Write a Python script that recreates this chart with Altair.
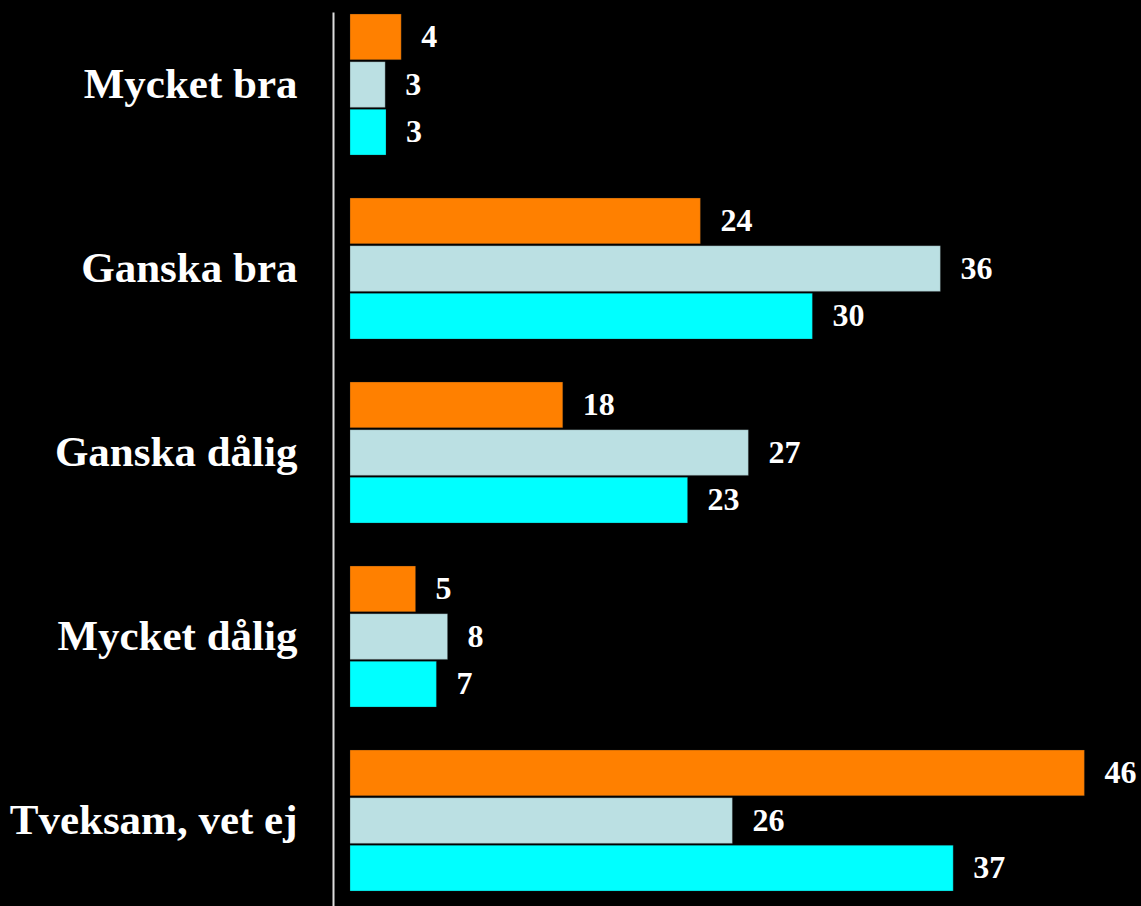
import altair as alt
import pandas as pd

categories = ["Mycket bra", "Ganska bra", "Ganska dålig", "Mycket dålig", "Tveksam, vet ej"]
series = ["Serie 1", "Serie 2", "Serie 3"]
colors = ["#FF8000", "#BBE0E3", "#00FFFF"]

# bar lengths as drawn
bar_s1 = [3.2, 21.9, 13.3, 4.1, 45.9]
bar_s2 = [2.2, 36.9, 24.9, 6.1, 23.9]
bar_s3 = [2.25, 28.9, 21.1, 5.4, 37.7]

# printed labels
lab_s1 = ["4", "24", "18", "5", "46"]
lab_s2 = ["3", "36", "27", "8", "26"]
lab_s3 = ["3", "30", "23", "7", "37"]

rows = []
for s, bars, labs in zip(series, [bar_s1, bar_s2, bar_s3], [lab_s1, lab_s2, lab_s3]):
    for c, b, l in zip(categories, bars, labs):
        rows.append({"cat": c, "serie": s, "val": b, "lab": l})
df = pd.DataFrame(rows)

y_enc = alt.Y("cat:N", sort=categories,
              scale=alt.Scale(paddingInner=0.2337, paddingOuter=0.0462, align=0.12),
              axis=alt.Axis(title=None, offset=17, domainColor="#DDDDDD", domainWidth=2,
                            ticks=False, tickSize=0, labelPadding=36,
                            labelFont="Liberation Serif", labelFontWeight="bold",
                            labelFontSize=43, labelColor="white", labelLimit=0))
yoff = alt.YOffset("serie:N", sort=series, scale=alt.Scale(paddingInner=0.04, paddingOuter=0))
color = alt.Color("serie:N", sort=series, scale=alt.Scale(domain=series, range=colors), legend=None)
x_enc = alt.X("val:Q", scale=alt.Scale(domain=[0, 48], nice=False, zero=True), axis=None)

base = alt.Chart(df).encode(y=y_enc, yOffset=yoff, x=x_enc)

bars = base.mark_bar(strokeWidth=0.6, strokeOpacity=0.5, stroke="#222222").encode(color=color)
texts = base.mark_text(align="left", baseline="middle", dx=20, font="Liberation Serif",
                       fontWeight="bold", fontSize=32, color="white").encode(text="lab:N")

chart = (bars + texts).properties(
    width=768, height=894,
    autosize=alt.AutoSizeParams(type="none"),
    padding={"left": 350, "top": 12, "right": 23, "bottom": 0},
    background="black",
).configure_view(stroke=None)

chart.save("out.html", embed_options={"renderer": "svg", "actions": False,
                                      "defaultStyle": "html, body { background: #000000; margin: 0; overflow: hidden; }"})
